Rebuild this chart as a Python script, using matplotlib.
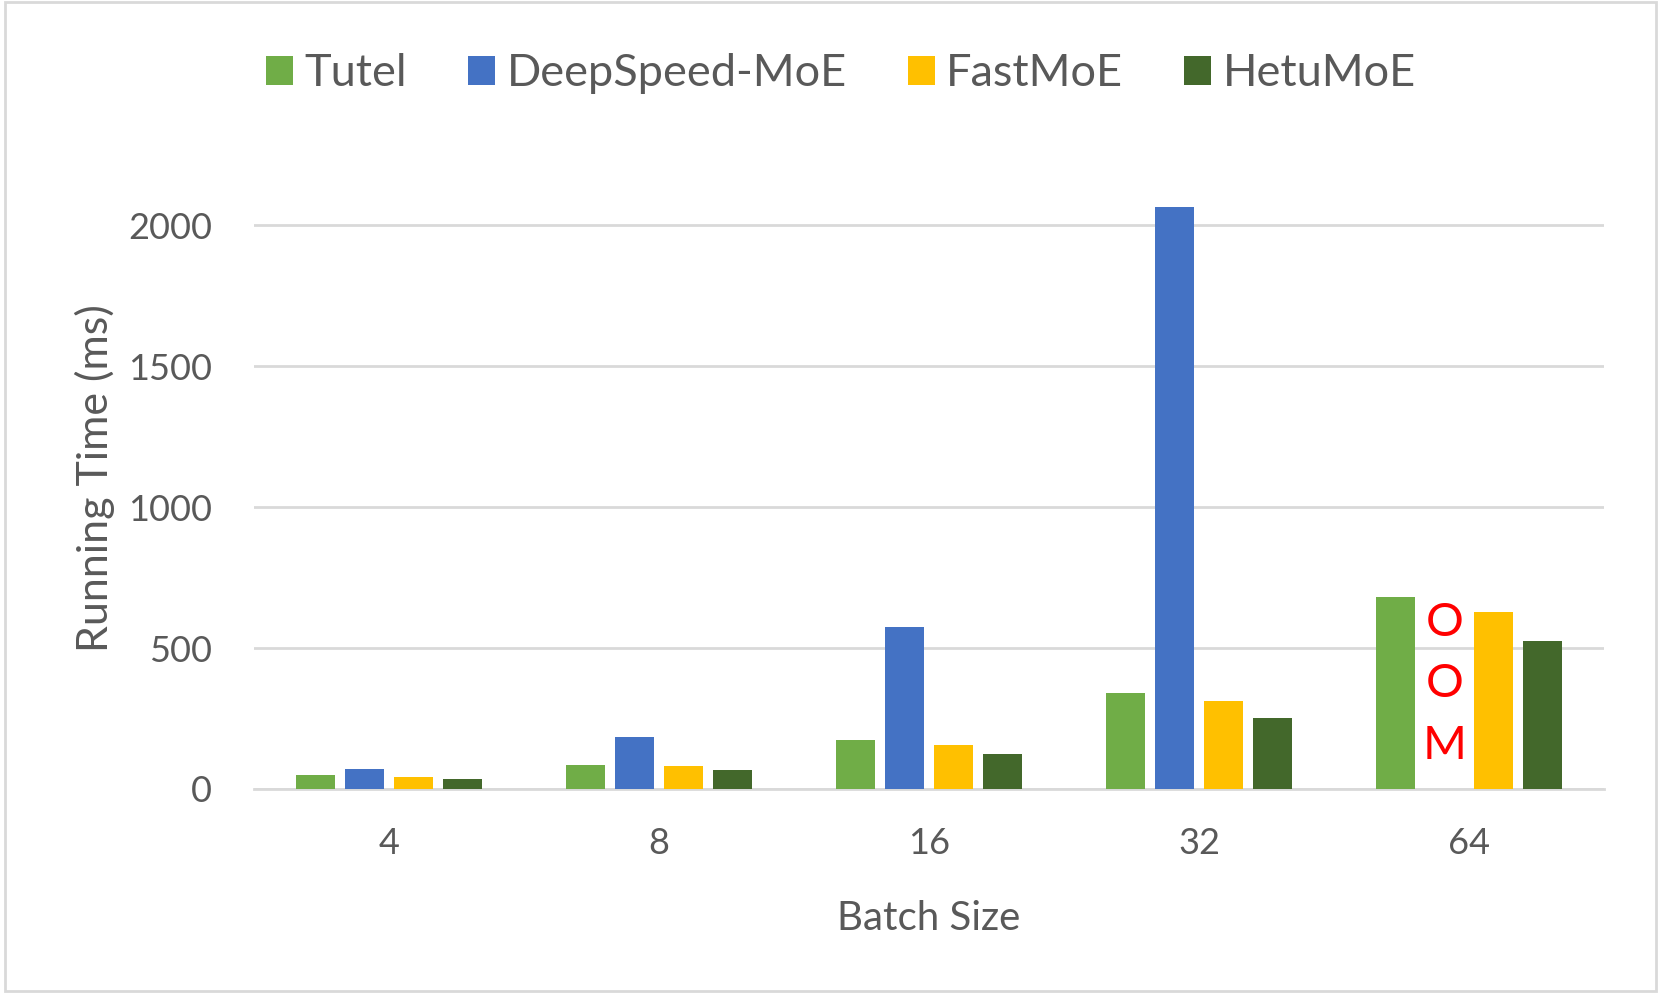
import matplotlib
matplotlib.use("Agg")
import matplotlib.pyplot as plt
import numpy as np
from matplotlib.patches import Rectangle

categories = ["4", "8", "16", "32", "64"]
series_names = ["Tutel", "DeepSpeed-MoE", "FastMoE", "HetuMoE"]
tutel = [48, 86, 173, 342, 682]
deepspeed = [70, 183, 573, 2063, 0]  # 64: OOM
fastmoe = [44, 83, 157, 313, 629]
hetumoe = [34, 66, 125, 253, 526]
yticks = [0, 500, 1000, 1500, 2000]

colors = ["#70AD47", "#4472C4", "#FFC000", "#43682B"]
text_color = "#595959"
grid_color = "#D9D9D9"

plt.rcParams['font.family'] = ['Lato', 'DejaVu Sans']

fig = plt.figure(figsize=(16.59, 9.94), dpi=100)
ax = fig.add_axes([254/1659, 1-789/994, 1350/1659, (789-197)/994])

x = np.arange(len(categories))
width = 39/270
step = 49/270
data = [tutel, deepspeed, fastmoe, hetumoe]
for i, (name, vals, c) in enumerate(zip(series_names, data, colors)):
    ax.bar(x + (i-1.5)*step, vals, width=width, color=c, label=name, zorder=3)

ax.set_xlim(-0.5, len(categories)-0.5)
ax.set_ylim(0, 2100)
ax.set_yticks(yticks)
ax.set_yticklabels([str(v) for v in yticks])
ax.set_xticks(x)
ax.set_xticklabels(categories)
ax.yaxis.grid(True, color=grid_color, linewidth=2, zorder=0)
ax.set_axisbelow(True)
for s in ["top", "right", "left"]:
    ax.spines[s].set_visible(False)
ax.spines["bottom"].set_color(grid_color)
ax.spines["bottom"].set_linewidth(2)
ax.tick_params(axis='both', length=0, labelsize=26, labelcolor=text_color)
ax.tick_params(axis='y', pad=30)
ax.tick_params(axis='x', pad=27)

ax.set_xlabel("Batch Size", fontsize=29, color=text_color, labelpad=29)
ax.set_ylabel("Running Time (ms)", fontsize=31, color=text_color)
ax.yaxis.set_label_coords(-0.103, 0.525)

# OOM marker for DeepSpeed-MoE at batch 64
oom_x = x[4] + (1-1.5)*step
for letter, yv in zip(["O", "O", "M"], [590, 372, 153]):
    ax.text(oom_x, yv, letter, color="#FF0000", fontsize=34, ha="center", va="center", zorder=4)

leg = fig.legend(loc="center", bbox_to_anchor=(841/1659, 1-74/994), ncol=4, frameon=False,
                 fontsize=32.5, handlelength=0.6, handleheight=0.6, handletextpad=0.25,
                 columnspacing=1.35, labelcolor=text_color)

# figure border
fig.patches.append(Rectangle((5/1659, 3/994), 1651/1659, 989/994, transform=fig.transFigure,
                             fill=False, edgecolor=grid_color, linewidth=2))

fig.savefig("out.png", dpi=100)
